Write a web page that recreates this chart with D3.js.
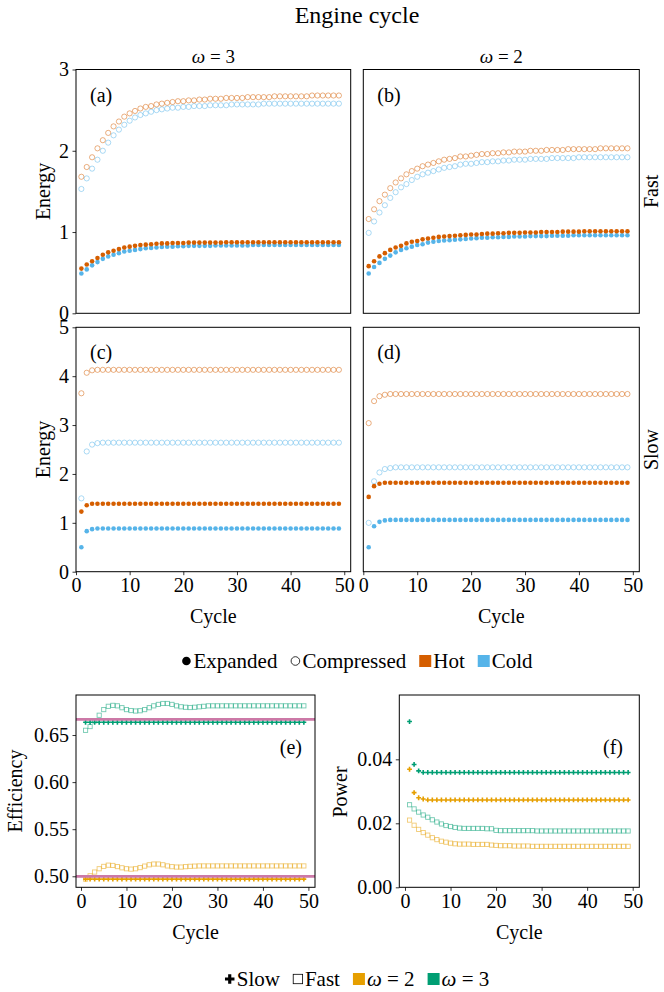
<!DOCTYPE html>
<html>
<head>
<meta charset="utf-8">
<script src="https://cdn.jsdelivr.net/npm/d3@7"></script>
<style>
body { margin: 0; background: #fff; }
svg, svg text { font-family: 'Liberation Serif', 'DejaVu Serif', 'Times New Roman', serif; }
</style>
</head>
<body>
<div id="vis"></div>
<script>
var width = 664;
var height = 992;

// cycle index 1..49
var cycles = d3.range(1, 50);

// ---- energy, omega = 3, fast (a)
var aCompHot = [
  1.68, 1.80, 1.92, 2.03, 2.13, 2.22, 2.30, 2.36, 2.42, 2.46,
  2.49, 2.52, 2.54, 2.55, 2.57, 2.58, 2.59, 2.60, 2.61, 2.61,
  2.62, 2.62, 2.63, 2.63, 2.64, 2.64, 2.64, 2.65, 2.65, 2.65,
  2.65, 2.66, 2.66, 2.66, 2.66, 2.66, 2.67, 2.67, 2.67, 2.67,
  2.67, 2.67, 2.67, 2.68, 2.68, 2.68, 2.68, 2.68, 2.68];
var aCompCold = [
  1.53, 1.66, 1.78, 1.89, 2.00, 2.10, 2.19, 2.26, 2.32, 2.37,
  2.41, 2.44, 2.46, 2.48, 2.50, 2.51, 2.52, 2.53, 2.53, 2.54,
  2.54, 2.55, 2.55, 2.55, 2.56, 2.56, 2.56, 2.56, 2.57, 2.57,
  2.57, 2.57, 2.57, 2.57, 2.58, 2.58, 2.58, 2.58, 2.58, 2.58,
  2.58, 2.58, 2.58, 2.58, 2.58, 2.58, 2.58, 2.58, 2.58];
var aExpHot = [
  0.55, 0.60, 0.64, 0.68, 0.72, 0.75, 0.77, 0.79, 0.81, 0.82,
  0.83, 0.84, 0.845, 0.85, 0.855, 0.86, 0.86, 0.865, 0.865, 0.865,
  0.87, 0.87, 0.87, 0.87, 0.87, 0.87, 0.87, 0.875, 0.875, 0.875,
  0.875, 0.875, 0.875, 0.875, 0.875, 0.875, 0.875, 0.875, 0.875, 0.875,
  0.875, 0.875, 0.875, 0.875, 0.875, 0.875, 0.875, 0.875, 0.875];
var aExpCold = [
  0.49, 0.54, 0.59, 0.63, 0.67, 0.70, 0.72, 0.74, 0.76, 0.77,
  0.78, 0.79, 0.80, 0.805, 0.81, 0.815, 0.82, 0.82, 0.825, 0.825,
  0.83, 0.83, 0.83, 0.83, 0.83, 0.835, 0.835, 0.835, 0.835, 0.835,
  0.835, 0.835, 0.84, 0.84, 0.84, 0.84, 0.84, 0.84, 0.84, 0.84,
  0.84, 0.84, 0.84, 0.84, 0.84, 0.84, 0.84, 0.84, 0.84];

// ---- energy, omega = 2, fast (b)
var bCompHot = [
  1.16, 1.28, 1.38, 1.46, 1.54, 1.61, 1.66, 1.71, 1.75, 1.78,
  1.81, 1.83, 1.85, 1.87, 1.89, 1.90, 1.91, 1.93, 1.93, 1.94,
  1.95, 1.96, 1.96, 1.97, 1.97, 1.98, 1.98, 1.99, 1.99, 1.99,
  2.00, 2.00, 2.00, 2.01, 2.01, 2.01, 2.01, 2.02, 2.02, 2.02,
  2.02, 2.02, 2.02, 2.03, 2.03, 2.03, 2.03, 2.03, 2.03];
var bCompCold = [
  0.99, 1.13, 1.24, 1.33, 1.42, 1.49, 1.55, 1.59, 1.64, 1.68,
  1.71, 1.73, 1.75, 1.77, 1.79, 1.80, 1.81, 1.83, 1.84, 1.84,
  1.85, 1.86, 1.86, 1.87, 1.87, 1.88, 1.88, 1.89, 1.89, 1.89,
  1.90, 1.90, 1.90, 1.90, 1.91, 1.91, 1.91, 1.91, 1.91, 1.92,
  1.92, 1.92, 1.92, 1.92, 1.92, 1.92, 1.92, 1.92, 1.92];
var bExpHot = [
  0.58, 0.64, 0.70, 0.74, 0.78, 0.81, 0.83, 0.86, 0.88, 0.89,
  0.91, 0.92, 0.93, 0.94, 0.945, 0.95, 0.955, 0.96, 0.965, 0.97,
  0.97, 0.975, 0.98, 0.98, 0.985, 0.985, 0.99, 0.99, 0.99, 0.995,
  0.995, 0.995, 1.00, 1.00, 1.00, 1.00, 1.005, 1.005, 1.005, 1.005,
  1.01, 1.01, 1.01, 1.01, 1.01, 1.01, 1.01, 1.01, 1.01];
var bExpCold = [
  0.49, 0.57, 0.62, 0.67, 0.71, 0.75, 0.78, 0.80, 0.82, 0.84,
  0.85, 0.87, 0.88, 0.89, 0.895, 0.90, 0.905, 0.91, 0.915, 0.92,
  0.925, 0.93, 0.93, 0.935, 0.935, 0.94, 0.94, 0.945, 0.945, 0.945,
  0.95, 0.95, 0.95, 0.95, 0.955, 0.955, 0.955, 0.955, 0.96, 0.96,
  0.96, 0.96, 0.96, 0.96, 0.96, 0.96, 0.96, 0.96, 0.96];

// ---- energy, omega = 3, slow (c)
var cCompHot = [
  3.65, 4.07, 4.12, 4.13, 4.13, 4.13, 4.13, 4.13, 4.13, 4.13,
  4.13, 4.13, 4.13, 4.13, 4.13, 4.13, 4.13, 4.13, 4.13, 4.13,
  4.13, 4.13, 4.13, 4.13, 4.13, 4.13, 4.13, 4.13, 4.13, 4.13,
  4.13, 4.13, 4.13, 4.13, 4.13, 4.13, 4.13, 4.13, 4.13, 4.13,
  4.13, 4.13, 4.13, 4.13, 4.13, 4.13, 4.13, 4.13, 4.13];
var cCompCold = [
  1.50, 2.46, 2.60, 2.63, 2.64, 2.64, 2.64, 2.64, 2.64, 2.64,
  2.64, 2.64, 2.64, 2.64, 2.64, 2.64, 2.64, 2.64, 2.64, 2.64,
  2.64, 2.64, 2.64, 2.64, 2.64, 2.64, 2.64, 2.64, 2.64, 2.64,
  2.64, 2.64, 2.64, 2.64, 2.64, 2.64, 2.64, 2.64, 2.64, 2.64,
  2.64, 2.64, 2.64, 2.64, 2.64, 2.64, 2.64, 2.64, 2.64];
var cExpHot = [
  1.23, 1.36, 1.39, 1.39, 1.39, 1.39, 1.39, 1.39, 1.39, 1.39,
  1.39, 1.39, 1.39, 1.39, 1.39, 1.39, 1.39, 1.39, 1.39, 1.39,
  1.39, 1.39, 1.39, 1.39, 1.39, 1.39, 1.39, 1.39, 1.39, 1.39,
  1.39, 1.39, 1.39, 1.39, 1.39, 1.39, 1.39, 1.39, 1.39, 1.39,
  1.39, 1.39, 1.39, 1.39, 1.39, 1.39, 1.39, 1.39, 1.39];
var cExpCold = [
  0.50, 0.83, 0.87, 0.885, 0.885, 0.885, 0.885, 0.885, 0.885, 0.885,
  0.885, 0.885, 0.885, 0.885, 0.885, 0.885, 0.885, 0.885, 0.885, 0.885,
  0.885, 0.885, 0.885, 0.885, 0.885, 0.885, 0.885, 0.885, 0.885, 0.885,
  0.885, 0.885, 0.885, 0.885, 0.885, 0.885, 0.885, 0.885, 0.885, 0.885,
  0.885, 0.885, 0.885, 0.885, 0.885, 0.885, 0.885, 0.885, 0.885];

// ---- energy, omega = 2, slow (d)
var dCompHot = [
  3.04, 3.49, 3.59, 3.62, 3.635, 3.635, 3.635, 3.635, 3.635, 3.635,
  3.635, 3.635, 3.635, 3.635, 3.635, 3.635, 3.635, 3.635, 3.635, 3.635,
  3.635, 3.635, 3.635, 3.635, 3.635, 3.635, 3.635, 3.635, 3.635, 3.635,
  3.635, 3.635, 3.635, 3.635, 3.635, 3.635, 3.635, 3.635, 3.635, 3.635,
  3.635, 3.635, 3.635, 3.635, 3.635, 3.635, 3.635, 3.635, 3.635];
var dCompCold = [
  1.00, 1.85, 2.03, 2.10, 2.12, 2.135, 2.135, 2.135, 2.135, 2.135,
  2.135, 2.135, 2.135, 2.135, 2.135, 2.135, 2.135, 2.135, 2.135, 2.135,
  2.135, 2.135, 2.135, 2.135, 2.135, 2.135, 2.135, 2.135, 2.135, 2.135,
  2.135, 2.135, 2.135, 2.135, 2.135, 2.135, 2.135, 2.135, 2.135, 2.135,
  2.135, 2.135, 2.135, 2.135, 2.135, 2.135, 2.135, 2.135, 2.135];
var dExpHot = [
  1.53, 1.75, 1.80, 1.82, 1.82, 1.82, 1.82, 1.82, 1.82, 1.82,
  1.82, 1.82, 1.82, 1.82, 1.82, 1.82, 1.82, 1.82, 1.82, 1.82,
  1.82, 1.82, 1.82, 1.82, 1.82, 1.82, 1.82, 1.82, 1.82, 1.82,
  1.82, 1.82, 1.82, 1.82, 1.82, 1.82, 1.82, 1.82, 1.82, 1.82,
  1.82, 1.82, 1.82, 1.82, 1.82, 1.82, 1.82, 1.82, 1.82];
var dExpCold = [
  0.50, 0.93, 1.02, 1.05, 1.06, 1.06, 1.06, 1.06, 1.06, 1.06,
  1.06, 1.06, 1.06, 1.06, 1.06, 1.06, 1.06, 1.06, 1.06, 1.06,
  1.06, 1.06, 1.06, 1.06, 1.06, 1.06, 1.06, 1.06, 1.06, 1.06,
  1.06, 1.06, 1.06, 1.06, 1.06, 1.06, 1.06, 1.06, 1.06, 1.06,
  1.06, 1.06, 1.06, 1.06, 1.06, 1.06, 1.06, 1.06, 1.06];

// ---- efficiency (e)
var carnot = [0.5, 2 / 3];
var effSlow2 = [
  0.497, 0.497, 0.497, 0.497, 0.497, 0.497, 0.497, 0.497, 0.497, 0.497,
  0.497, 0.497, 0.497, 0.497, 0.497, 0.497, 0.497, 0.497, 0.497, 0.497,
  0.497, 0.497, 0.497, 0.497, 0.497, 0.497, 0.497, 0.497, 0.497, 0.497,
  0.497, 0.497, 0.497, 0.497, 0.497, 0.497, 0.497, 0.497, 0.497, 0.497,
  0.497, 0.497, 0.497, 0.497, 0.497, 0.497, 0.497, 0.497, 0.497];
var effSlow3 = [
  0.6635, 0.6635, 0.6635, 0.6635, 0.6635, 0.6635, 0.6635, 0.6635, 0.6635, 0.6635,
  0.6635, 0.6635, 0.6635, 0.6635, 0.6635, 0.6635, 0.6635, 0.6635, 0.6635, 0.6635,
  0.6635, 0.6635, 0.6635, 0.6635, 0.6635, 0.6635, 0.6635, 0.6635, 0.6635, 0.6635,
  0.6635, 0.6635, 0.6635, 0.6635, 0.6635, 0.6635, 0.6635, 0.6635, 0.6635, 0.6635,
  0.6635, 0.6635, 0.6635, 0.6635, 0.6635, 0.6635, 0.6635, 0.6635, 0.6635];
var effFast2 = [
  0.497, 0.5005, 0.5045, 0.508, 0.5105, 0.5118, 0.5115, 0.5103, 0.509, 0.508,
  0.5076, 0.508, 0.5092, 0.5108, 0.5122, 0.513, 0.513, 0.5122, 0.511, 0.5102,
  0.5098, 0.5098, 0.5102, 0.5106, 0.5108, 0.511, 0.511, 0.511, 0.511, 0.511,
  0.511, 0.511, 0.511, 0.511, 0.511, 0.511, 0.511, 0.511, 0.511, 0.511,
  0.511, 0.511, 0.511, 0.511, 0.511, 0.511, 0.511, 0.511, 0.511];
var effFast3 = [
  0.655, 0.659, 0.665, 0.671, 0.677, 0.6805, 0.6815, 0.681, 0.679, 0.677,
  0.676, 0.6755, 0.6758, 0.677, 0.679, 0.681, 0.6825, 0.6835, 0.6835, 0.6825,
  0.681, 0.680, 0.6795, 0.6792, 0.6795, 0.680, 0.6805, 0.681, 0.681, 0.681,
  0.681, 0.681, 0.681, 0.681, 0.681, 0.681, 0.681, 0.681, 0.681, 0.681,
  0.681, 0.681, 0.681, 0.681, 0.681, 0.681, 0.681, 0.681, 0.681];

// ---- power (f)
var powSlow2 = [
  0.0369, 0.0296, 0.0280, 0.0276, 0.0273, 0.0273, 0.0273, 0.0273, 0.0273, 0.0273,
  0.0273, 0.0273, 0.0273, 0.0273, 0.0273, 0.0273, 0.0273, 0.0273, 0.0273, 0.0273,
  0.0273, 0.0273, 0.0273, 0.0273, 0.0273, 0.0273, 0.0273, 0.0273, 0.0273, 0.0273,
  0.0273, 0.0273, 0.0273, 0.0273, 0.0273, 0.0273, 0.0273, 0.0273, 0.0273, 0.0273,
  0.0273, 0.0273, 0.0273, 0.0273, 0.0273, 0.0273, 0.0273, 0.0273, 0.0273];
var powSlow3 = [
  0.0518, 0.0384, 0.0364, 0.0359, 0.0359, 0.0359, 0.0359, 0.0359, 0.0359, 0.0359,
  0.0359, 0.0359, 0.0359, 0.0359, 0.0359, 0.0359, 0.0359, 0.0359, 0.0359, 0.0359,
  0.0359, 0.0359, 0.0359, 0.0359, 0.0359, 0.0359, 0.0359, 0.0359, 0.0359, 0.0359,
  0.0359, 0.0359, 0.0359, 0.0359, 0.0359, 0.0359, 0.0359, 0.0359, 0.0359, 0.0359,
  0.0359, 0.0359, 0.0359, 0.0359, 0.0359, 0.0359, 0.0359, 0.0359, 0.0359];
var powFast2 = [
  0.0210, 0.0194, 0.0181, 0.0171, 0.0163, 0.0155, 0.0149, 0.0144, 0.0141, 0.0138,
  0.0136, 0.0135, 0.0135, 0.0135, 0.0134, 0.0134, 0.0134, 0.0134, 0.0132, 0.0131,
  0.0130, 0.0130, 0.0130, 0.0129, 0.0129, 0.0129, 0.0129, 0.0128, 0.0128, 0.0128,
  0.0128, 0.0128, 0.0128, 0.0128, 0.0128, 0.0128, 0.0128, 0.0128, 0.0128, 0.0128,
  0.0128, 0.0128, 0.0128, 0.0128, 0.0128, 0.0128, 0.0128, 0.0128, 0.0128];
var powFast3 = [
  0.0258, 0.0245, 0.0235, 0.0226, 0.0219, 0.0211, 0.0204, 0.0198, 0.0193, 0.0190,
  0.0187, 0.0185, 0.0184, 0.0184, 0.0184, 0.0184, 0.0184, 0.0183, 0.0183, 0.0178,
  0.0177, 0.0177, 0.0177, 0.0177, 0.0177, 0.0177, 0.0177, 0.0177, 0.0176, 0.0176,
  0.0176, 0.0176, 0.0176, 0.0176, 0.0176, 0.0176, 0.0176, 0.0176, 0.0176, 0.0176,
  0.0176, 0.0176, 0.0176, 0.0176, 0.0176, 0.0176, 0.0176, 0.0176, 0.0176];

var hot = "#d55e00", cold = "#56b4e9";
var col2 = "#e69f00", col3 = "#009e73", pink = "#cc79a7";
var serif = "'Liberation Serif', 'DejaVu Serif', serif";

var svg = d3.select("#vis").append("svg")
  .attr("width", width)
  .attr("height", height)
  .attr("viewBox", [0, 0, width, height])
  .attr("font-family", serif);

var tickFont = 20, labelFont = 20, legendFont = 21;

function frame(x, y) {
  svg.append("rect")
    .attr("x", x.range()[0]).attr("y", y.range()[1])
    .attr("width", x.range()[1] - x.range()[0])
    .attr("height", y.range()[0] - y.range()[1])
    .attr("fill", "none").attr("stroke", "#000").attr("stroke-width", 1);
}

function styleAxis(g) {
  g.attr("font-family", serif).attr("font-size", tickFont);
  g.select(".domain").remove();
  g.selectAll("line").attr("stroke", "#000").attr("stroke-width", 0.8);
  g.selectAll("text").attr("fill", "#000");
}

function dots(x, y, values, color, r) {
  svg.append("g").selectAll("circle")
    .data(values)
    .enter().append("circle")
    .attr("cx", (d, i) => x(cycles[i]))
    .attr("cy", d => y(d))
    .attr("r", r)
    .attr("fill", color);
}

function rings(x, y, values, color) {
  svg.append("g").selectAll("circle")
    .data(values)
    .enter().append("circle")
    .attr("cx", (d, i) => x(cycles[i]))
    .attr("cy", d => y(d))
    .attr("r", 2.6)
    .attr("fill", "none")
    .attr("stroke", color)
    .attr("stroke-opacity", 0.55)
    .attr("stroke-width", 0.9);
}

function boxes(x, y, values, color) {
  svg.append("g").selectAll("rect")
    .data(values)
    .enter().append("rect")
    .attr("x", (d, i) => x(cycles[i]) - 2.1)
    .attr("y", d => y(d) - 2.1)
    .attr("width", 4.2).attr("height", 4.2)
    .attr("fill", "none")
    .attr("stroke", color)
    .attr("stroke-opacity", 0.55)
    .attr("stroke-width", 0.9);
}

function crosses(x, y, values, color) {
  svg.append("g").selectAll("path")
    .data(values)
    .enter().append("path")
    .attr("d", d3.symbol(d3.symbolCross, 13))
    .attr("transform", (d, i) => `translate(${x(cycles[i])},${y(d)})`)
    .attr("fill", color);
}

function label(x, y, text, size, anchor) {
  return svg.append("text")
    .attr("x", x).attr("y", y)
    .attr("text-anchor", anchor || "start")
    .attr("font-size", size)
    .text(text);
}

function vlabel(x, y, text, size) {
  return svg.append("text")
    .attr("transform", `translate(${x},${y}) rotate(-90)`)
    .attr("text-anchor", "middle")
    .attr("dy", "0.3em")
    .attr("font-size", size)
    .text(text);
}

// ---- energy grid
var cols = [[76, 350.7], [363.3, 639.3]];
var rows = [[69.5, 313.3], [327.3, 571.7]];
var rowDomains = [[0, 3], [0, 5]];
var rowTicks = [[0, 1, 2, 3], [0, 1, 2, 3, 4, 5]];

var energyPanels = [
  {label: "(a)", col: 0, row: 0, compHot: aCompHot, compCold: aCompCold, expHot: aExpHot, expCold: aExpCold},
  {label: "(b)", col: 1, row: 0, compHot: bCompHot, compCold: bCompCold, expHot: bExpHot, expCold: bExpCold},
  {label: "(c)", col: 0, row: 1, compHot: cCompHot, compCold: cCompCold, expHot: cExpHot, expCold: cExpCold},
  {label: "(d)", col: 1, row: 1, compHot: dCompHot, compCold: dCompCold, expHot: dExpHot, expCold: dExpCold}
];

energyPanels.forEach(function(p) {
  var cx = cols[p.col], ry = rows[p.row];
  var x = d3.scaleLinear().domain([0, 51.2]).range(cx);
  var y = d3.scaleLinear().domain(rowDomains[p.row]).range([ry[1], ry[0]]);

  rings(x, y, p.compCold, cold);
  rings(x, y, p.compHot, hot);
  dots(x, y, p.expCold, cold, 2.3);
  dots(x, y, p.expHot, hot, 2.3);

  frame(x, y);

  if (p.col == 0) {
    svg.append("g")
      .attr("transform", `translate(${cx[0]},0)`)
      .call(d3.axisLeft(y).tickValues(rowTicks[p.row]).tickSize(3.5).tickPadding(3.5).tickFormat(d3.format("d")))
      .call(styleAxis);
    vlabel(44, (ry[0] + ry[1]) / 2, "Energy", labelFont);
  }
  if (p.row == 1) {
    svg.append("g")
      .attr("transform", `translate(0,${ry[1]})`)
      .call(d3.axisBottom(x).tickValues([0, 10, 20, 30, 40, 50]).tickSize(3.5).tickPadding(3).tickFormat(d3.format("d")))
      .call(styleAxis);
    label((cx[0] + cx[1]) / 2, 623, "Cycle", labelFont, "middle");
  }
  label(cx[0] + 14, ry[0] + 32, p.label, labelFont);
});

// column and row headers
var colTitles = [["ω", " = 3"], ["ω", " = 2"]];
colTitles.forEach(function(t, i) {
  var txt = label((cols[i][0] + cols[i][1]) / 2, 63, "", 19, "middle");
  txt.append("tspan").attr("font-style", "italic").text(t[0]);
  txt.append("tspan").text(t[1]);
});

["Fast", "Slow"].forEach(function(t, i) {
  vlabel(652, (rows[i][0] + rows[i][1]) / 2, t, labelFont);
});

label(357, 23, "Engine cycle", 24, "middle");

// ---- efficiency (e)
(function() {
  var x = d3.scaleLinear().domain([-1.1, 51.45]).range([76, 315]);
  var y = d3.scaleLinear().domain([0.4883, 0.6925]).range([887.3, 695]);

  boxes(x, y, effFast2, col2);
  boxes(x, y, effFast3, col3);
  crosses(x, y, effSlow2, col2);
  crosses(x, y, effSlow3, col3);

  svg.append("g").selectAll("line")
    .data(carnot)
    .enter().append("line")
    .attr("x1", x.range()[0]).attr("x2", x.range()[1])
    .attr("y1", d => y(d)).attr("y2", d => y(d))
    .attr("stroke", pink).attr("stroke-width", 2.8);

  frame(x, y);

  svg.append("g")
    .attr("transform", "translate(76,0)")
    .call(d3.axisLeft(y).tickValues([0.50, 0.55, 0.60, 0.65]).tickSize(3.5).tickPadding(3.5).tickFormat(d3.format(".2f")))
    .call(styleAxis);
  svg.append("g")
    .attr("transform", "translate(0,887.3)")
    .call(d3.axisBottom(x).tickValues([0, 10, 20, 30, 40, 50]).tickSize(3.5).tickPadding(3).tickFormat(d3.format("d")))
    .call(styleAxis);

  vlabel(16, 791, "Efficiency", labelFont);
  label(195.5, 939, "Cycle", labelFont, "middle");
  label(302, 754, "(e)", labelFont, "end");
})();

// ---- power (f)
(function() {
  var x = d3.scaleLinear().domain([-1.25, 51.45]).range([399.3, 639.3]);
  var y = d3.scaleLinear().domain([0, 0.0601]).range([887.3, 695]);

  boxes(x, y, powFast2, col2);
  boxes(x, y, powFast3, col3);
  crosses(x, y, powSlow2, col2);
  crosses(x, y, powSlow3, col3);

  frame(x, y);

  svg.append("g")
    .attr("transform", "translate(399.3,0)")
    .call(d3.axisLeft(y).tickValues([0, 0.02, 0.04]).tickSize(3.5).tickPadding(3.5).tickFormat(d3.format(".2f")))
    .call(styleAxis);
  svg.append("g")
    .attr("transform", "translate(0,887.3)")
    .call(d3.axisBottom(x).tickValues([0, 10, 20, 30, 40, 50]).tickSize(3.5).tickPadding(3).tickFormat(d3.format("d")))
    .call(styleAxis);

  vlabel(341, 792, "Power", labelFont);
  label(519.3, 939, "Cycle", labelFont, "middle");
  label(623, 754, "(f)", labelFont, "end");
})();

// ---- legends
function legend(cy, items) {
  var g = svg.append("g").attr("font-size", legendFont);
  var pos = 0;
  items.forEach(function(it) {
    var mw = it.kind == "patch" ? 12 : 10;
    var m = g.append("g").attr("transform", `translate(${pos + mw / 2},${cy})`);
    if (it.kind == "dot") m.append("circle").attr("r", 4.3).attr("fill", "#000");
    if (it.kind == "ring") m.append("circle").attr("r", 4.3).attr("fill", "none").attr("stroke", "#000").attr("stroke-width", 0.8);
    if (it.kind == "patch") m.append("rect").attr("x", -6).attr("y", -6).attr("width", 12).attr("height", 12).attr("fill", it.color);
    if (it.kind == "plus") m.append("path").attr("d", d3.symbol(d3.symbolCross, 50)).attr("fill", "#000");
    if (it.kind == "square") m.append("rect").attr("x", -4.7).attr("y", -4.7).attr("width", 9.4).attr("height", 9.4).attr("fill", "none").attr("stroke", "#000").attr("stroke-width", 0.8);
    pos += mw + 2;
    var t = g.append("text").attr("x", pos).attr("y", cy).attr("dy", "0.35em");
    it.label.forEach(function(part) {
      var s = t.append("tspan").text(part[0]);
      if (part[1]) s.attr("font-style", "italic");
    });
    pos += t.node().getComputedTextLength() + 13;
  });
  var w = pos - 13;
  g.attr("transform", `translate(${357 - w / 2},0)`);
}

legend(661, [
  {kind: "dot", label: [["Expanded"]]},
  {kind: "ring", label: [["Compressed"]]},
  {kind: "patch", color: hot, label: [["Hot"]]},
  {kind: "patch", color: cold, label: [["Cold"]]}
]);

legend(979, [
  {kind: "plus", label: [["Slow"]]},
  {kind: "square", label: [["Fast"]]},
  {kind: "patch", color: col2, label: [["ω", true], [" = 2"]]},
  {kind: "patch", color: col3, label: [["ω", true], [" = 3"]]}
]);
</script>
</body>
</html>
